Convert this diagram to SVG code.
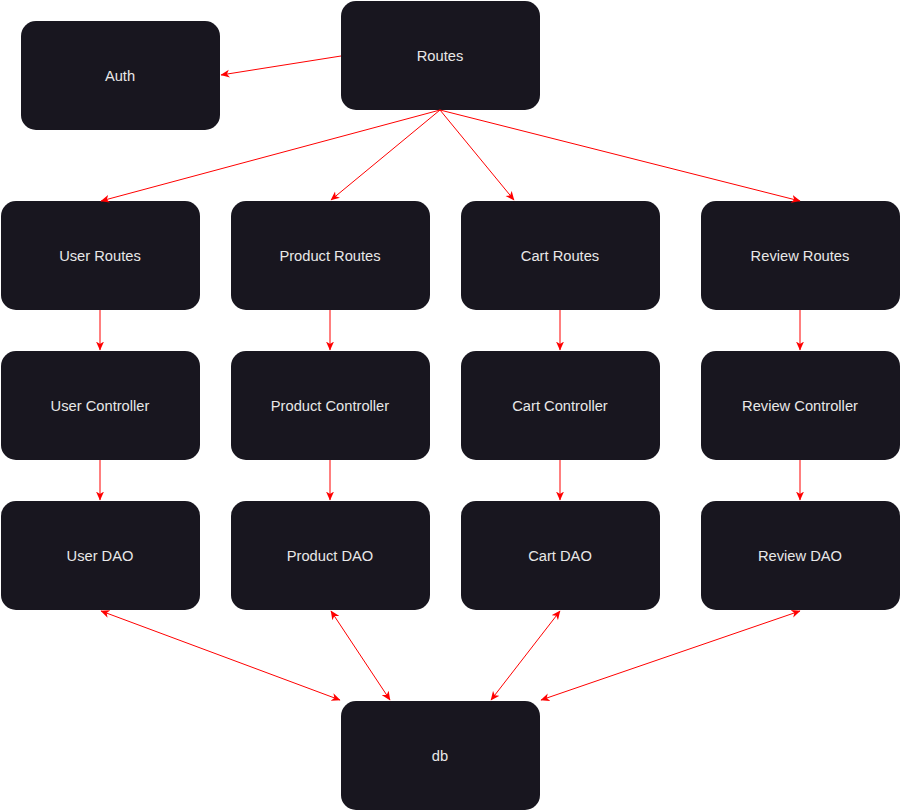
<svg xmlns="http://www.w3.org/2000/svg" width="901" height="811" viewBox="0 0 901 811">
<style>
.n rect{fill:#18161f;}
.n text{fill:#e8e8e8;font-family:"Liberation Sans",Arial,sans-serif;font-size:14.7px;text-anchor:middle;dominant-baseline:central;}
.c line{stroke:#ff0000;stroke-width:1;fill:none;}
.a{marker-end:url(#ah);}
.b{marker-start:url(#ah);marker-end:url(#ah);}
</style>
<defs>
<marker id="ah" markerUnits="userSpaceOnUse" markerWidth="10" markerHeight="9" refX="8.5" refY="4" orient="auto-start-reverse" viewBox="0 0 10 8">
<path d="M0,0 L9,4 L0,8 L2.5,4 z" fill="#ff0000"/>
</marker>
</defs>
<rect width="901" height="811" fill="#ffffff"/>
<g id="auth" class="n"><rect x="21" y="21" width="199" height="109" rx="15"/><text x="120" y="76">Auth</text></g>
<g id="routes" class="n"><rect x="341" y="1" width="199" height="109" rx="15"/><text x="440" y="56">Routes</text></g>
<g id="user-routes" class="n"><rect x="1" y="201" width="199" height="109" rx="15"/><text x="100" y="256">User Routes</text></g>
<g id="product-routes" class="n"><rect x="231" y="201" width="199" height="109" rx="15"/><text x="330" y="256">Product Routes</text></g>
<g id="cart-routes" class="n"><rect x="461" y="201" width="199" height="109" rx="15"/><text x="560" y="256">Cart Routes</text></g>
<g id="review-routes" class="n"><rect x="701" y="201" width="199" height="109" rx="15"/><text x="800" y="256">Review Routes</text></g>
<g id="user-controller" class="n"><rect x="1" y="351" width="199" height="109" rx="15"/><text x="100" y="406">User Controller</text></g>
<g id="product-controller" class="n"><rect x="231" y="351" width="199" height="109" rx="15"/><text x="330" y="406">Product Controller</text></g>
<g id="cart-controller" class="n"><rect x="461" y="351" width="199" height="109" rx="15"/><text x="560" y="406">Cart Controller</text></g>
<g id="review-controller" class="n"><rect x="701" y="351" width="199" height="109" rx="15"/><text x="800" y="406">Review Controller</text></g>
<g id="user-dao" class="n"><rect x="1" y="501" width="199" height="109" rx="15"/><text x="100" y="556">User DAO</text></g>
<g id="product-dao" class="n"><rect x="231" y="501" width="199" height="109" rx="15"/><text x="330" y="556">Product DAO</text></g>
<g id="cart-dao" class="n"><rect x="461" y="501" width="199" height="109" rx="15"/><text x="560" y="556">Cart DAO</text></g>
<g id="review-dao" class="n"><rect x="701" y="501" width="199" height="109" rx="15"/><text x="800" y="556">Review DAO</text></g>
<g id="db" class="n"><rect x="341" y="701" width="199" height="109" rx="15"/><text x="440" y="756">db</text></g>
<g id="connectors" class="c">
<line class="a" x1="341" y1="56" x2="221" y2="75"/>
<line class="a" x1="440" y1="110" x2="101" y2="201"/>
<line class="a" x1="440" y1="110" x2="331" y2="200"/>
<line class="a" x1="440" y1="110" x2="514" y2="200"/>
<line class="a" x1="440" y1="110" x2="800" y2="201"/>
<line class="a" x1="100" y1="310" x2="100" y2="350"/>
<line class="a" x1="330" y1="310" x2="330" y2="350"/>
<line class="a" x1="560" y1="310" x2="560" y2="350"/>
<line class="a" x1="800" y1="310" x2="800" y2="350"/>
<line class="a" x1="100" y1="460" x2="100" y2="500"/>
<line class="a" x1="330" y1="460" x2="330" y2="500"/>
<line class="a" x1="560" y1="460" x2="560" y2="500"/>
<line class="a" x1="800" y1="460" x2="800" y2="500"/>
<line class="b" x1="101" y1="611" x2="340" y2="700"/>
<line class="b" x1="331" y1="611" x2="390" y2="700"/>
<line class="b" x1="560" y1="611" x2="491" y2="700"/>
<line class="b" x1="800" y1="611" x2="541" y2="700"/>
</g>
</svg>
